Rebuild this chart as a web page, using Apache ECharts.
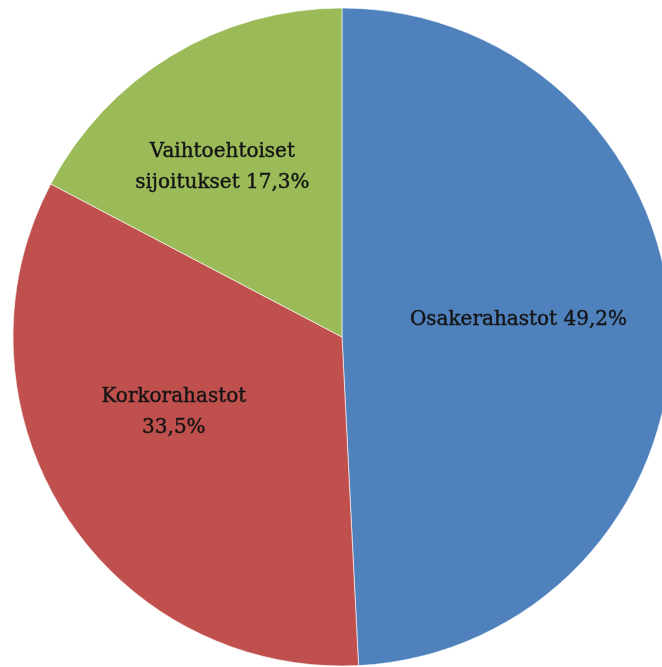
<!DOCTYPE html>
<html>
<head>
<meta charset="utf-8">
<script src="https://cdn.jsdelivr.net/npm/echarts@6/dist/echarts.min.js"></script>
<style>
  html, body { margin: 0; padding: 0; background: #fff; }
  #main { width: 662px; height: 667px; }
</style>
</head>
<body>
<div id="main"></div>
<script>
var categories = ['Osakerahastot', 'Korkorahastot', 'Vaihtoehtoiset sijoitukset'];
var values = [49.2, 33.5, 17.3];
var labelTexts = ['Osakerahastot 49,2%', 'Korkorahastot\n33,5%', 'Vaihtoehtoiset\nsijoitukset 17,3%'];
var colors = ['#4F81BD', '#C0504D', '#9BBB59'];
// nudges so labels sit where the original has them
var labelShift = [[9, -13], [-27, -15], [-33, -26]];

var myChart = echarts.init(document.getElementById('main'));
myChart.setOption({
    animation: false,
    series: [{
        type: 'pie',
        center: [342, 337],
        radius: [0, 329],
        startAngle: 90,
        clockwise: true,
        itemStyle: {
            borderColor: '#ffffff',
            borderWidth: 0.6
        },
        label: {
            show: true,
            position: 'inside',
            color: '#141414',
            textBorderColor: '#141414',
            textBorderWidth: 0.4,
            fontFamily: 'DejaVu Serif',
            fontSize: 20,
            lineHeight: 31,
            align: 'center',
            formatter: function (p) { return labelTexts[p.dataIndex]; }
        },
        labelLayout: function (p) {
            return { dx: labelShift[p.dataIndex][0], dy: labelShift[p.dataIndex][1] };
        },
        emphasis: { disabled: true },
        data: categories.map(function (c, i) {
            return { name: c, value: values[i], itemStyle: { color: colors[i] } };
        })
    }]
});
</script>
</body>
</html>
